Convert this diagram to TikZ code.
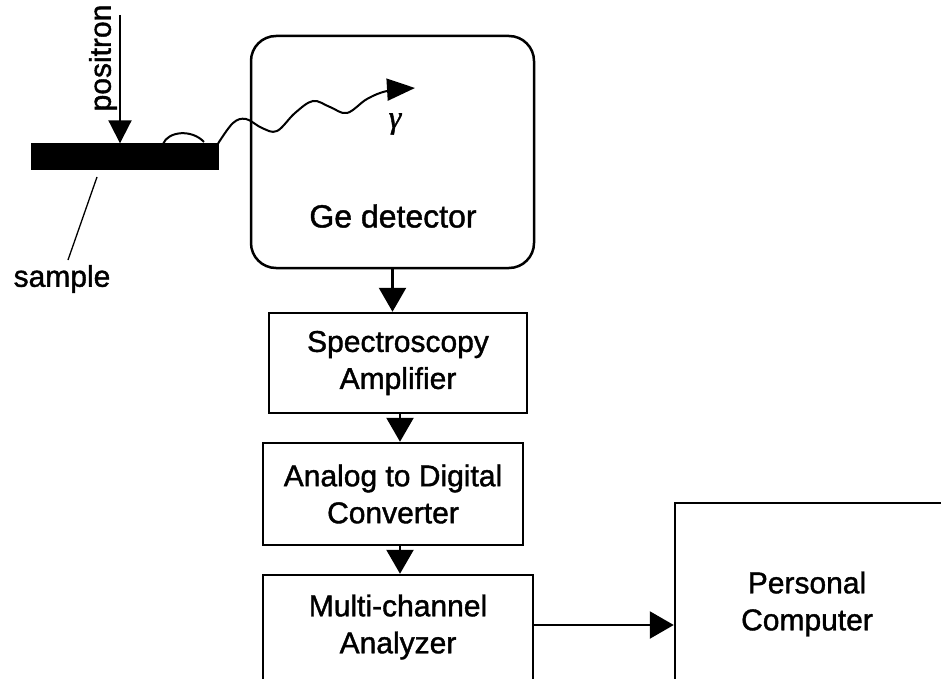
\documentclass[tikz,border=0pt]{standalone}
\usepackage{fontspec}
\setmainfont{Liberation Sans}[FakeBold=1.3]
\newfontfamily\gfont{Liberation Serif}[FakeBold=1.3]
\usetikzlibrary{arrows.meta,calc}
\begin{document}
\begin{tikzpicture}[x=1pt,y=-1pt,
  box/.style={draw,line width=2.5pt,inner sep=0pt,align=center,font=\fontsize{30}{37}\selectfont},
  lbl/.style={font=\fontsize{30}{37}\selectfont,align=center,inner sep=0pt},
  arr/.style={line width=2.5pt,-{Triangle[length=24pt,width=27pt]}},
]
\useasboundingbox (0,0) rectangle (941,679);
\clip (0,0) rectangle (941,679);
% sample
\node[fill=black,draw=black,minimum width=187pt,minimum height=26pt,inner sep=0pt] (sample) at (124.5,156.5) {};
\coordinate (ptop) at (120,15);
\draw[line width=2pt,-{Triangle[length=23pt,width=23pt]}] (ptop) -- (ptop |- sample.north);
\node[lbl,rotate=90] (positron) at (103,58) {positron};
\coordinate (s1) at (97,177);
\coordinate (s2) at (68,260);
\draw[line width=1.3pt] (s1) -- (s2);
\node[lbl] (samplelbl) at (62,279) {sample};
% hump on sample
\draw[line width=2pt] (163,144) .. controls (168,131) and (192,129) .. (204,142);
% Ge detector
\node[box,rounded corners=25pt,minimum width=283pt,minimum height=232pt] (ge) at (392.5,152) {};
\node[lbl,font=\fontsize{32}{38}\selectfont] (getext) at (393,216) {Ge detector};
% gamma wave
\draw[line width=2pt,-{Triangle[length=28pt,width=22pt]}] plot[smooth,tension=0.6] coordinates
  {(sample.north east) (233,123) (246,119) (262,128) (277,131) (295,113) (313,101) (330,107) (347,113) (367,99) (387,91) (415,88)};
\node[font=\fontsize{32}{36}\gfont\itshape,inner sep=0pt] (gamma) at (395,124) {γ};
% chain
\node[box,minimum width=258pt,minimum height=100pt] (spec) at (398,363) {Spectroscopy\\Amplifier};
\node[box,minimum width=260pt,minimum height=102pt] (adc) at (393,494) {Analog to Digital\\Converter};
\node[box,minimum width=270pt,minimum height=120pt] (mca) at (398,635) {};
\node[lbl] (mcatext) at (398,627) {Multi-channel\\Analyzer};
\node[box,minimum width=285pt,minimum height=197pt] (pc) at (817.5,601.5) {};
\node[lbl] (pctext) at (807,604) {Personal\\Computer};
% arrows
\draw[arr] (ge.south) -- (ge.south |- spec.north);
\draw[arr] (spec.south -| 400,0) -- (adc.north -| 400,0);
\draw[arr] (adc.south -| 400,0) -- (mca.north -| 400,0);
\draw[arr] ([yshift=10pt]mca.east) -- ([yshift=10pt]mca.east -| pc.west);
\end{tikzpicture}
\end{document}
